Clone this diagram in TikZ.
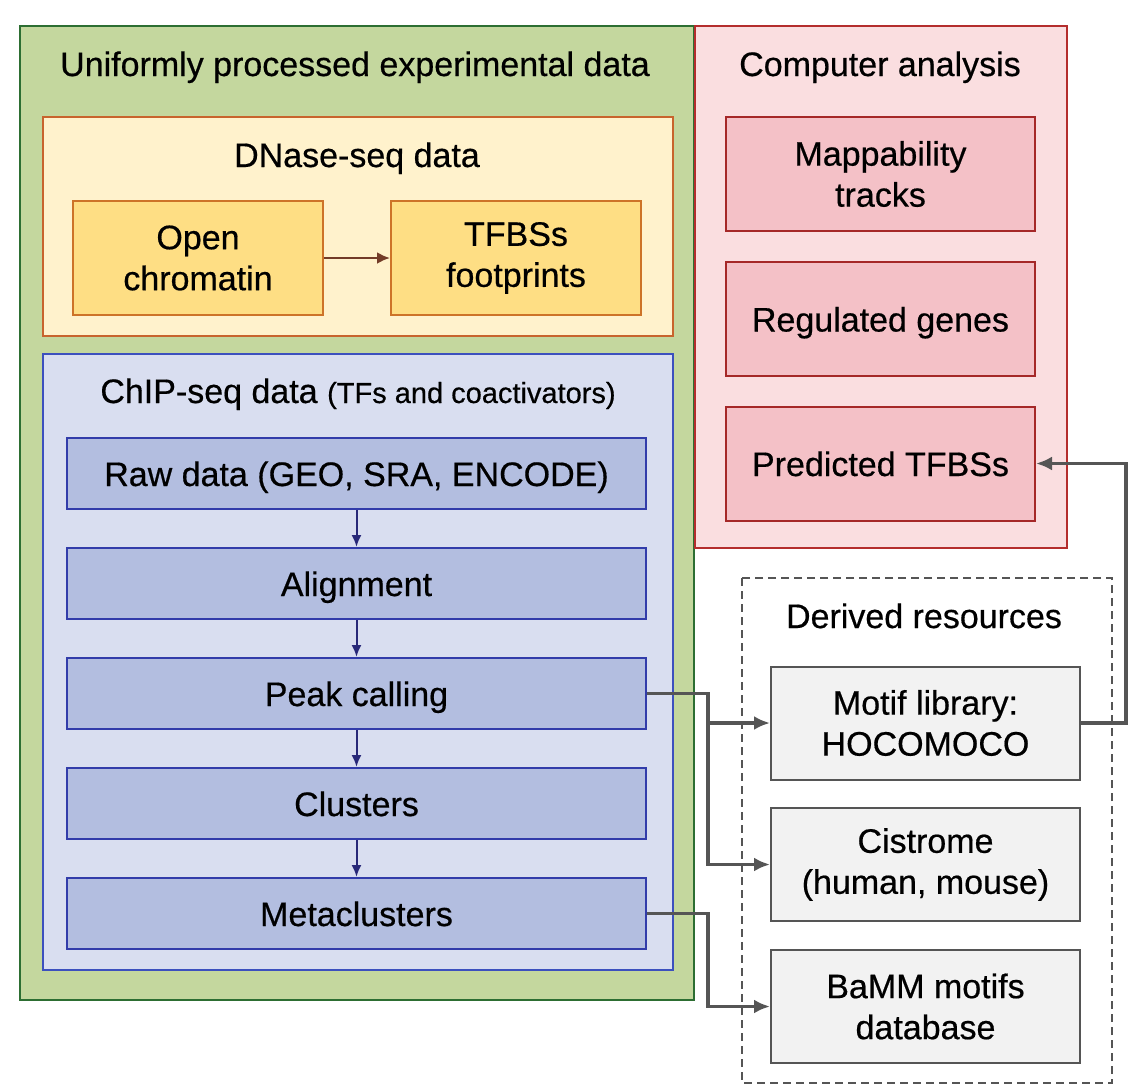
\documentclass[tikz,border=0pt]{standalone}
\usepackage{fontspec}
\setmainfont{Liberation Sans}[FakeBold=0.5]
\usetikzlibrary{arrows.meta}
\usepackage{xcolor}
\definecolor{gfill}{RGB}{196,215,158}
\definecolor{gline}{RGB}{45,110,50}
\definecolor{yfill}{RGB}{255,242,204}
\definecolor{yline}{RGB}{200,100,45}
\definecolor{yboxfill}{RGB}{254,222,132}
\definecolor{yboxline}{RGB}{205,115,40}
\definecolor{brownarr}{RGB}{115,60,40}
\definecolor{bfill}{RGB}{217,222,240}
\definecolor{bline}{RGB}{60,80,190}
\definecolor{bboxfill}{RGB}{179,190,224}
\definecolor{bboxline}{RGB}{50,60,170}
\definecolor{navyarr}{RGB}{40,40,120}
\definecolor{rfill}{RGB}{250,222,224}
\definecolor{rline}{RGB}{180,45,45}
\definecolor{rboxfill}{RGB}{244,193,199}
\definecolor{rboxline}{RGB}{165,40,40}
\definecolor{grayfill}{RGB}{242,242,242}
\definecolor{grayline}{RGB}{85,85,85}

\begin{document}
\begin{tikzpicture}[x=1pt,y=-1pt,
	every node/.style={font=\fontsize{34}{41}\selectfont},
	ybox/.style={draw=yboxline, fill=yboxfill, line width=2pt, minimum width=250pt, minimum height=114pt, align=center},
	bbox/.style={draw=bboxline, fill=bboxfill, line width=2pt, minimum width=579pt, minimum height=71pt, text height=25pt, text depth=0pt},
	rbox/.style={draw=rboxline, fill=rboxfill, line width=2pt, minimum width=309pt, minimum height=114pt},
	gbox/.style={draw=grayline, fill=grayfill, line width=2pt, minimum width=309pt, minimum height=113pt, align=center},
	conn/.style={draw=grayline, line width=3.5pt, -{Latex[length=16pt,width=14pt]}},
	barrow/.style={draw=navyarr, line width=2pt, -{Latex[length=12pt,width=10pt]}}]
	\useasboundingbox (0,0) rectangle (1144,1092);
	\draw[fill=gfill, draw=gline, line width=2pt] (20,26) rectangle (694,1000);
	\draw[fill=rfill, draw=rline, line width=2pt] (695,26) rectangle (1067,548);
	\draw[fill=yfill, draw=yline, line width=2pt] (43,117) rectangle (673,336);
	\draw[fill=bfill, draw=bline, line width=2pt] (43,354) rectangle (673,970);
	\draw[draw=grayline, line width=1.5pt, dash pattern=on 8pt off 5pt] (742,578) rectangle (1112,1083);
	\node (exptitle) [anchor=base] at (355,76) {Uniformly processed experimental data};
	\node (comptitle) [anchor=base] at (880,76) {Computer analysis};
	\node (dnasetitle) [anchor=base] at (357,167) {DNase-seq data};
	\node (chiptitle) [anchor=base] at (358,403) {ChIP-seq data {\fontsize{29}{35}\selectfont(TFs and coactivators)}};
	\node (dertitle) [anchor=base] at (924,628) {Derived resources};
	\node (open) [ybox] at (198,258) {Open\\chromatin};
	\node (tfbs) [ybox] at (516,258) {TFBSs\\footprints};
	\draw[draw=brownarr, line width=2.5pt, -{Latex[length=13pt,width=12pt]}] (open) -> (tfbs);
	\node (raw) [bbox] at (356.5,473.5) {Raw data (GEO, SRA, ENCODE)};
	\node (algn) [bbox] at (356.5,583.5) {Alignment};
	\node (peak) [bbox] at (356.5,693.5) {Peak calling};
	\node (clus) [bbox] at (356.5,803.5) {Clusters};
	\node (meta) [bbox] at (356.5,913.5) {Metaclusters};
	\draw[barrow] (raw) -> (algn);
	\draw[barrow] (algn) -> (peak);
	\draw[barrow] (peak) -> (clus);
	\draw[barrow] (clus) -> (meta);
	\node (mapp) [rbox, align=center] at (880.5,174) {Mappability\\tracks};
	\node (regul) [rbox, text height=25pt, text depth=0pt] at (880.5,319) {Regulated genes};
	\node (pred) [rbox, text height=25pt, text depth=0pt] at (880.5,463.5) {Predicted TFBSs};
	\node (motif) [gbox] at (925.5,723) {Motif library:\\HOCOMOCO};
	\node (cist) [gbox] at (925.5,864.5) {Cistrome\\(human, mouse)};
	\node (bamm) [gbox] at (925.5,1006.5) {BaMM motifs\\database};
	\coordinate (jpeak) at (708,693.5);
	\coordinate (jmeta) at (708,913.5);
	\coordinate (jmotif) at (1126,723);
	\draw[conn] (peak.east) -- (jpeak) |- (cist);
	\draw[conn] (jpeak) |- (motif);
	\draw[conn] (meta.east) -- (jmeta) |- (bamm);
	\draw[conn] (motif.east) -- (jmotif) |- (pred);
\end{tikzpicture}
\end{document}
